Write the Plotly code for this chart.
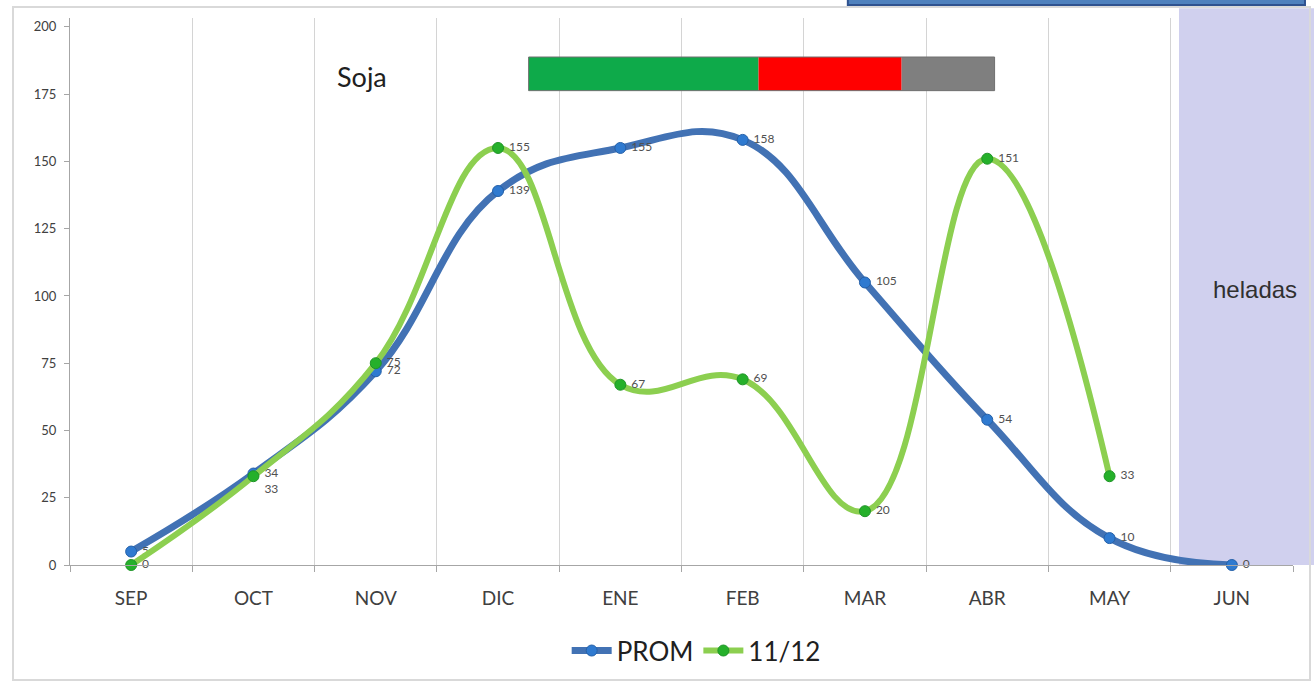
import plotly.graph_objects as go

months = ["SEP", "OCT", "NOV", "DIC", "ENE", "FEB", "MAR", "ABR", "MAY", "JUN"]
prom = [5, 34, 72, 139, 155, 158, 105, 54, 10, 0]
camp_1112 = [0, 33, 75, 155, 67, 69, 20, 151, 33, None]
y_ticks = [0, 25, 50, 75, 100, 125, 150, 175, 200]

# crop-stage bar (category-index positions of segment boundaries)
stage_edges = [3.25, 5.13, 6.30, 7.06]
stage_colors = ["#0eaa4a", "#ff0000", "#7f7f7f"]

BLUE = "#4272b4"
GREEN = "#8ccf50"
FONT = "Lato"

prom_pos = ["middle right"] * len(prom)
g_pos = ["middle right"] * len(camp_1112)
g_pos[1] = "bottom right"

fig = go.Figure()

fig.add_trace(go.Scatter(
    x=months, y=prom, name="PROM", mode="lines+markers+text",
    line=dict(color=BLUE, width=7, shape="spline", smoothing=1.2),
    marker=dict(color="#2f7ad0", size=11, line=dict(color="#2460a8", width=1)),
    text=[" " + str(v) for v in prom], textposition=prom_pos,
    textfont=dict(family=FONT, size=12, color="#505050"),
    cliponaxis=False,
))
fig.add_trace(go.Scatter(
    x=months, y=camp_1112, name="11/12", mode="lines+markers+text",
    line=dict(color=GREEN, width=6, shape="spline", smoothing=1.2),
    marker=dict(color="#25b02a", size=11, line=dict(color="#1f9428", width=1)),
    text=["" if v is None else " " + str(v) for v in camp_1112], textposition=g_pos,
    textfont=dict(family=FONT, size=12, color="#505050"),
    cliponaxis=False, connectgaps=False,
))

shapes = []
# heladas shading
shapes.append(dict(type="rect", xref="paper", yref="paper", x0=0.9068, x1=1.02,
                   y0=0, y1=1.018, fillcolor="#d0d0ee", line=dict(width=0), layer="below"))
# outer frame
shapes.append(dict(type="rect", xref="paper", yref="paper", x0=-0.0466, x1=1.0139,
                   y0=-0.2102, y1=1.0201, fillcolor="rgba(0,0,0,0)",
                   line=dict(color="#d9d9d9", width=2), layer="below"))
# blue box at top right
shapes.append(dict(type="rect", xref="paper", yref="paper", x0=0.636, x1=1.0098,
                   y0=1.0238, y1=1.07, fillcolor="#4f81bd",
                   line=dict(color="#2f528f", width=2)))
# stage bar
for i, c in enumerate(stage_colors):
    shapes.append(dict(type="rect", xref="x", yref="y", x0=stage_edges[i], x1=stage_edges[i + 1],
                       y0=176.3, y1=188.8, fillcolor=c, line=dict(width=0)))
shapes.append(dict(type="rect", xref="x", yref="y", x0=stage_edges[0], x1=stage_edges[-1],
                   y0=176.3, y1=188.8, fillcolor="rgba(0,0,0,0)", line=dict(color="#707070", width=1)))

fig.update_layout(
    width=1314, height=682,
    margin=dict(l=70, r=21, t=18, b=117, autoexpand=False),
    paper_bgcolor="white", plot_bgcolor="rgba(0,0,0,0)",
    font=dict(family=FONT, color="#404040"),
    shapes=shapes,
    showlegend=True,
    legend=dict(orientation="h", x=0.512, xanchor="center", yref="container", y=0.046,
                yanchor="middle",
                font=dict(family=FONT, size=26, color="#202020"), itemwidth=40,
                bgcolor="rgba(0,0,0,0)"),
    annotations=[
        dict(text="Soja", xref="x", yref="y", x=1.89, y=181.4, showarrow=False,
             xanchor="center", font=dict(family=FONT, size=27, color="#202020")),
        dict(text="heladas", xref="paper", yref="y", x=0.969, y=102.5, showarrow=False,
             xanchor="center", font=dict(family="Liberation Sans", size=24, color="#303030")),
    ],
)
fig.update_xaxes(
    type="category", categoryorder="array", categoryarray=months,
    range=[-0.5, 9.5], tickson="boundaries",
    showgrid=True, gridcolor="#d4d4d4", gridwidth=1,
    showline=True, linecolor="#a6a6a6", linewidth=1,
    ticks="outside", ticklen=6, tickcolor="#a6a6a6",
    ticklabelstandoff=16, automargin=False,
    tickfont=dict(family=FONT, size=19, color="#404040"),
    zeroline=False,
)
fig.update_yaxes(
    range=[0, 203.3], tickvals=y_ticks, showgrid=False, zeroline=False,
    showline=True, linecolor="#a6a6a6", linewidth=1,
    ticks="outside", ticklen=5, tickcolor="#a6a6a6",
    ticklabelstandoff=5, automargin=False,
    tickfont=dict(family=FONT, size=13, color="#404040"),
)

fig.write_html("out.html", config={"displayModeBar": False},
               post_script="document.body.style.margin='0';document.body.style.overflow='hidden';")
